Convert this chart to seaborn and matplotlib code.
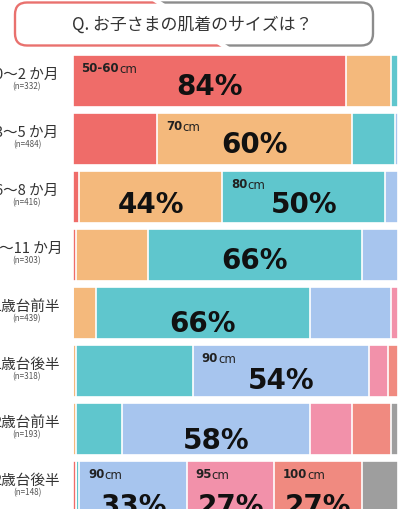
import numpy as np
import pandas as pd
import matplotlib
matplotlib.use("Agg")
import matplotlib.pyplot as plt
from matplotlib.patches import FancyBboxPatch, Polygon
import seaborn as sns

sns.set_style("white")
plt.rcParams["font.family"] = ["Noto Sans CJK JP", "DejaVu Sans"]

# data (share %)
groups = ["0～2 か月", "3～5 か月", "6～8 か月", "9～11 か月",
          "1歳台前半", "1歳台後半", "2歳台前半", "2歳台後半"]
n_labels = ["(n=332)", "(n=484)", "(n=416)", "(n=303)",
            "(n=439)", "(n=318)", "(n=193)", "(n=148)"]
sizes = ["50-60", "70", "80", "90", "95", "100", "その他"]
s_5060 = [84, 26, 2, 1, 0, 0, 0, 1]
s_70 = [14, 60, 44, 22, 7, 1, 1, 0]
s_80 = [2, 13, 50, 66, 66, 36, 14, 1]
s_90 = [0, 1, 4, 11, 25, 54, 58, 33]
s_95 = [0, 0, 0, 0, 2, 6, 13, 27]
s_100 = [0, 0, 0, 0, 0, 3, 12, 27]
s_other = [0, 0, 0, 0, 0, 0, 2, 11]

# which segments get a big % label: (row, size index, show size name)
labelled = [(0, 0, True), (1, 1, True), (2, 1, False), (2, 2, True),
            (3, 2, False), (4, 2, False), (5, 3, True), (6, 3, False),
            (7, 3, True), (7, 4, True), (7, 5, True)]
# how far below the bar centre the % sits, per row
pct_dy = [0.09, 0.08, 0.12, 0.09, 0.17, 0.16, 0.19, 0.33]

colors = ["#ef6c69", "#f4b97c", "#5fc6cd", "#a7c5ee", "#f291aa", "#f08a80", "#9e9e9e"]

df = pd.DataFrame(np.array([s_5060, s_70, s_80, s_90, s_95, s_100, s_other]).T,
                  columns=sizes)
df.insert(0, "group", groups)
cum = df[sizes].cumsum(axis=1)

fig = plt.figure(figsize=(4.06, 5.10), dpi=100)
# bars area in pixels: x 73..398, rows centred at 81.5 + 58*i
ax = fig.add_axes([73 / 406, 1 - 517 / 510, 325 / 406, 464 / 510])

for i in reversed(range(len(sizes))):
    sns.barplot(x=cum[sizes[i]], y=df["group"], orient="h", color=colors[i],
                saturation=1, width=0.88, edgecolor="white", linewidth=1.2, ax=ax)

ax.set_xlim(0, 100)
ax.set_ylim(7.5, -0.5)
ax.axis("off")

for r, k, show in labelled:
    val = df[sizes[k]].iloc[r]
    left = cum.iloc[r, k] - val
    ax.text(left + val / 2, r + pct_dy[r], f"{val}%", ha="center", va="center",
            fontsize=20, fontweight="bold", family="DejaVu Sans", color="#111111")
    if show:
        t = ax.text(left + 2.6, r - 0.23, sizes[k], ha="left", va="center",
                    fontsize=8.5, fontweight="bold", family="DejaVu Sans",
                    color="#222222")
        ax.annotate("cm", xy=(1, 0.42), xycoords=t, ha="left", va="center",
                    fontsize=8.5, family="DejaVu Sans", color="#222222")

lx = (27 - 73) / 325 * 100
for r in range(len(groups)):
    ax.text(lx, r - 0.12, groups[r], ha="center", va="center", fontsize=10.5,
            color="#333333", clip_on=False)
    ax.text(lx, r + 0.085, n_labels[r], ha="center", va="center", fontsize=5.8,
            color="#555555", clip_on=False)

# title box: red on the left, grey on the right
tax = fig.add_axes([0, 0, 1, 1])
tax.set_xlim(0, 406)
tax.set_ylim(510, 0)
tax.axis("off")
tax.patch.set_alpha(0)

for col, pts in [("#e9716e", [(-5, -5), (142, -5), (232, 55), (-5, 55)]),
                 ("#8c8c8c", [(150, -5), (420, -5), (420, 55), (240, 55)])]:
    clip = Polygon(pts, closed=True, transform=tax.transData)
    box = FancyBboxPatch((15, 3.5), 358, 43, boxstyle="round,pad=0,rounding_size=12",
                         fill=False, edgecolor=col, linewidth=1.7)
    tax.add_patch(box)
    box.set_clip_path(clip)

tax.text(192, 25, "Q. お子さまの肌着のサイズは？", ha="center", va="center",
         fontsize=12.2, color="#333333")

fig.savefig("out.png", dpi=100)
